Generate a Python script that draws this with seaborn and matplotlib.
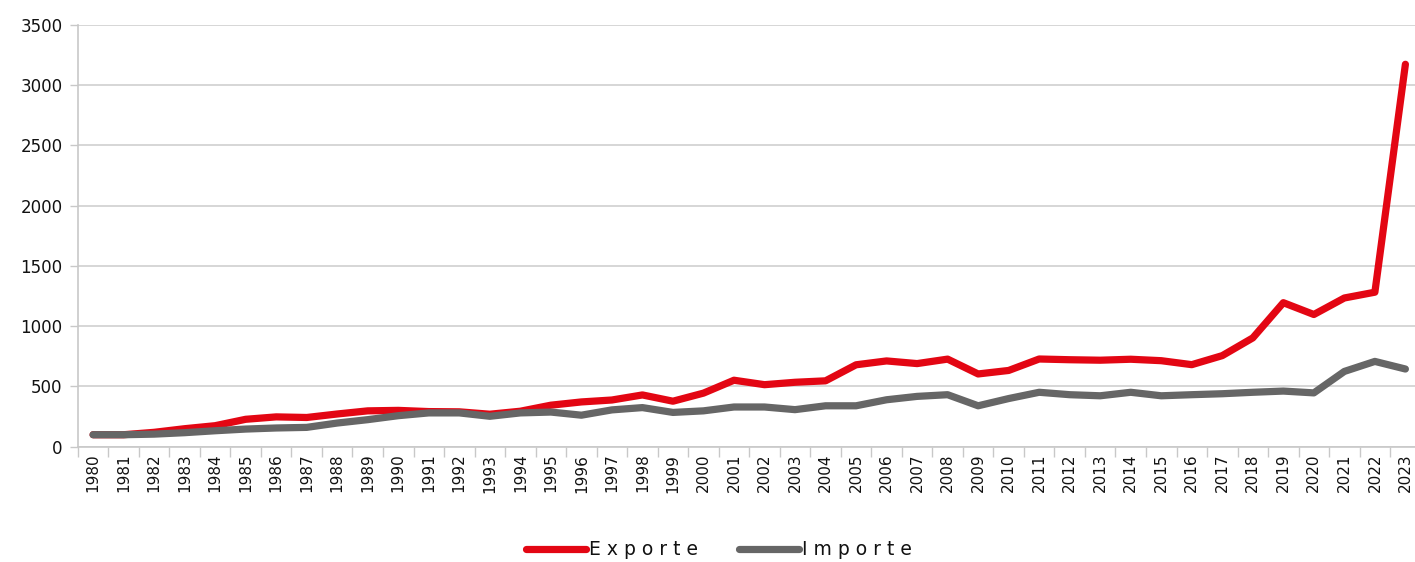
import matplotlib
matplotlib.use("Agg")
import matplotlib.pyplot as plt
import seaborn as sns
import pandas as pd
import numpy as np

years = list(range(1980, 2024))
exporte = [100, 100, 120, 150, 175, 228, 248, 243, 272, 298, 302, 292, 290, 270, 295,
           345, 372, 388, 430, 378, 445, 552, 515, 535, 547, 680, 712, 690, 727, 604,
           633, 728, 722, 718, 726, 714, 681, 756, 903, 1195, 1097, 1234, 1282, 3172]
importe = [100, 100, 105, 117, 133, 147, 156, 161, 197, 225, 258, 281, 281, 253, 281,
           288, 262, 306, 325, 285, 298, 330, 330, 308, 340, 340, 390, 418, 432, 340,
           400, 452, 432, 423, 452, 423, 432, 440, 452, 462, 447, 625, 708, 645]
labels = ["E x p o r t e", "I m p o r t e"]
colors = ["#e30613", "#666666"]

df = pd.DataFrame({
    "Jahr": years * 2,
    "Wert": exporte + importe,
    "Reihe": [labels[0]] * len(years) + [labels[1]] * len(years),
})

sns.set_theme(style="white")
plt.rcParams["font.family"] = ["DejaVu Sans"]
plt.rcParams["text.color"] = "#111111"
plt.rcParams["xtick.color"] = "#111111"
plt.rcParams["ytick.color"] = "#111111"

fig = plt.figure(figsize=(14.15, 5.62), dpi=100)
ax = fig.add_axes([0.055, 0.205, 0.949, 0.751])

sns.lineplot(data=df, x="Jahr", y="Wert", hue="Reihe", palette=colors,
             linewidth=5.2, ax=ax, legend=True)
for ln in ax.lines:
    ln.set_solid_capstyle("round")
    ln.set_solid_joinstyle("round")
    ln.set_clip_on(False)

ax.set_xlim(years[0] - 0.5, years[-1] + 0.5)
ax.set_ylim(0, 3500)
ax.set_yticks(range(0, 3501, 500))
ax.set_xticks(years)
ax.set_xticklabels([str(y) for y in years], rotation=90, fontsize=11)
ax.set_xticks(np.arange(years[0] - 0.5, years[-1] + 0.6, 1), minor=True)
ax.tick_params(axis="x", which="major", length=0, pad=5)
ax.tick_params(axis="x", which="minor", length=7, color="#c8c8c8", width=1, direction="out", bottom=True)
ax.tick_params(axis="y", length=6, color="#c8c8c8", labelcolor="#111111", width=1,
               direction="out", left=True, labelsize=12, pad=5)
ax.tick_params(axis="x", labelcolor="#111111")
ax.grid(axis="y", color="#d0d0d0", linewidth=1.2)
ax.grid(axis="x", visible=False)

for side in ["top", "right"]:
    ax.spines[side].set_visible(False)
for side in ["left", "bottom"]:
    ax.spines[side].set_color("#c8c8c8")
    ax.spines[side].set_linewidth(1.2)

ax.set_xlabel("")
ax.set_ylabel("")

handles, lbls = ax.get_legend_handles_labels()
ax.legend(handles, lbls, loc="center", bbox_to_anchor=(0.508, 0.022),
          bbox_transform=fig.transFigure, ncol=2, frameon=False, fontsize=13.5,
          handlelength=3.2, handletextpad=0.15, columnspacing=2.2)
for h in ax.get_legend().get_lines():
    h.set_linewidth(5.2)
    h.set_solid_capstyle("round")

fig.savefig("out.png", dpi=100)
